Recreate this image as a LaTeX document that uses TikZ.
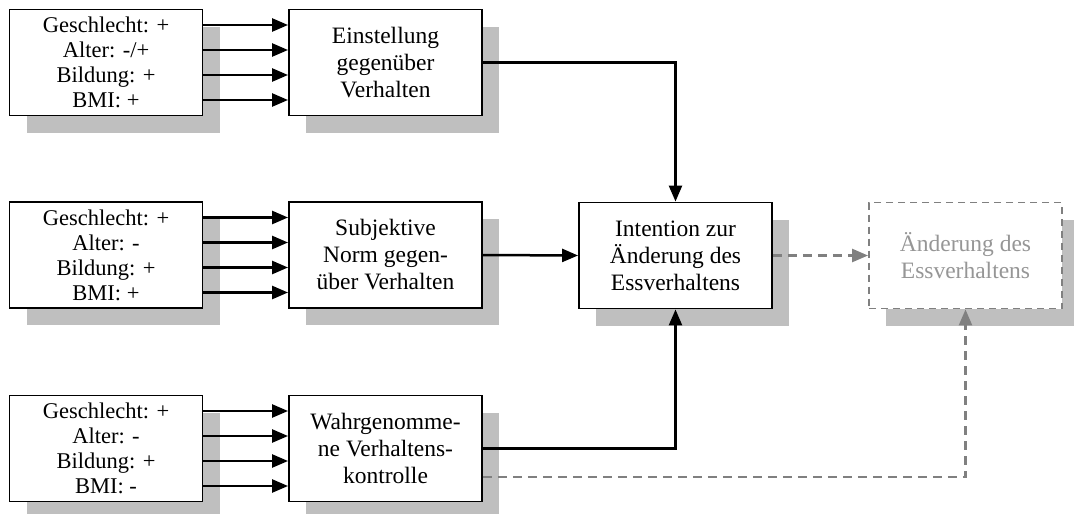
\documentclass[tikz,border=0pt]{standalone}
\usepackage{fontspec}
\setmainfont{Liberation Serif}
\usetikzlibrary{arrows.meta,shadows}
\definecolor{shadowgray}{RGB}{191,191,191}
\definecolor{linegray}{RGB}{128,128,128}
\definecolor{textgray}{RGB}{150,150,150}
\begin{document}
\begin{tikzpicture}[x=1pt,y=-1pt,
  box/.style={draw=black,line width=1.9pt,fill=white,rectangle,
    minimum width=193pt,minimum height=106pt,inner sep=0pt,align=center,
    general shadow={fill=shadowgray,shadow xshift=17pt,shadow yshift=-17pt}},
  factors/.style={box,font=\fontsize{22.5}{25}\selectfont},
  construct/.style={box,font=\fontsize{23.5}{27}\selectfont},
  ghostbox/.style={construct,draw=linegray,dash pattern=on 7pt off 5pt,text=textgray},
  arr/.style={line width=2.5pt,-{Triangle[length=16pt,width=13pt]}},
  garr/.style={line width=2.5pt,draw=linegray,dash pattern=on 9pt off 6pt,
    -{Triangle[length=16pt,width=13pt,fill=linegray]}}]
\useasboundingbox (0,0) rectangle (1074,514);

% factor boxes
\node[factors] (f1) at (106,62.5) {Geschlecht: +\\Alter: -/+\\Bildung: +\\BMI: +};
\node[factors] (f2) at (106,255) {Geschlecht: +\\Alter: -\\Bildung: +\\BMI: +};
\node[factors] (f3) at (106,448.5) {Geschlecht: +\\Alter: -\\Bildung: +\\BMI: -};

% constructs
\node[construct] (m1) at (385.5,62.5) {Einstellung\\gegenüber\\Verhalten};
\node[construct] (m2) at (385.5,255) {Subjektive\\Norm gegen-\\über Verhalten};
\node[construct] (m3) at (385.5,448.5) {Wahrgenomme-\\ne Verhaltens-\\kontrolle};

\node[construct] (int) at (675.5,255.5) {Intention zur\\Änderung des\\Essverhaltens};
\node[ghostbox] (beh) at (965.5,255.5) {Änderung des\\Essverhaltens};

% factor arrows
\foreach \i in {1,2,3}{
  \foreach \s in {37.5,12.5,-12.5,-37.5}{
    \draw[arr] ([yshift=\s pt]f\i.east) -- ([yshift=\s pt]m\i.west);
  }
}

% paths to the intention
\draw[arr] (m1.east) -| (int.north);
\draw[arr] (m2.east) -- (int.west);
\draw[arr] (m3.east) -| (int.south);

% paths to behaviour
\draw[garr] (int.east) -- (beh.west);
\draw[garr] ([yshift=-28.5pt]m3.east) -| (beh.south);
\end{tikzpicture}
\end{document}
